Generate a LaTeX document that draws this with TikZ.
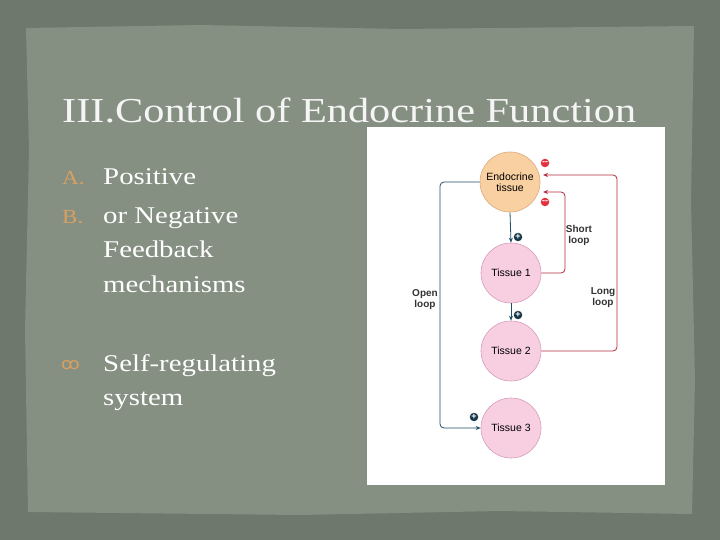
\documentclass[tikz,border=0pt]{standalone}
\usepackage{fontspec}
\setmainfont{Liberation Serif}
\newfontfamily\dsans{Liberation Sans}
\newfontfamily\djv{DejaVu Sans}
\usetikzlibrary{arrows.meta}
\definecolor{bgout}{HTML}{6E786C}
\definecolor{bgin}{HTML}{858F82}
\definecolor{bul}{HTML}{D9A060}
\definecolor{endof}{HTML}{F9D0A2}
\definecolor{endod}{HTML}{D9AC80}
\definecolor{tisf}{HTML}{F7CFE1}
\definecolor{tisd}{HTML}{D69DB8}
\definecolor{teal}{HTML}{1F4E66}
\definecolor{fb}{HTML}{B52B40}
\definecolor{minus}{HTML}{E2323F}
\begin{document}
\begin{tikzpicture}[x=1pt,y=-1pt,
  circ/.style={circle,minimum size=60pt,inner sep=0pt,draw=tisd,fill=tisf,line width=0.6pt,font=\dsans\fontsize{10.5}{11}\selectfont,align=center},
  lbl/.style={font=\dsans\bfseries\fontsize{10}{11}\selectfont,align=center,text=black!80},
  pl/.style={circle,fill=teal!70!black,text=white,inner sep=0pt,minimum size=8.5pt,font=\dsans\bfseries\fontsize{9}{9}\selectfont},
  mi/.style={circle,fill=minus,text=white,inner sep=0pt,minimum size=8.5pt,font=\dsans\bfseries\fontsize{9}{9}\selectfont},
  tl/.style={draw=teal,line width=0.8pt,-{Stealth[length=5pt,width=4pt]}},
  rl/.style={draw=fb,line width=0.8pt,rounded corners=4pt,-{Stealth[length=5pt,width=4pt]}},
  txt/.style={anchor=base west,inner sep=0pt,text=white,font=\fontsize{24}{24}\selectfont,xscale=1.2},
  bl/.style={anchor=base west,inner sep=0pt,text=bul,font=\fontsize{20}{20}\selectfont,xscale=1.15}]
\useasboundingbox (0,0) rectangle (720,540);
\fill[bgout] (0,0) rectangle (720,540);
\fill[bgin] (26,28) -- (200,25) -- (400,29) -- (694,26) -- (691,200) -- (695,380) -- (692,514) -- (500,511) -- (300,515) -- (28,512) -- (25,330) -- (29,150) -- cycle;
\node[anchor=base west,inner sep=0pt,text=white!92!gray,font=\fontsize{35}{35}\selectfont,xscale=1.21] (title) at (62,123) {III.Control of Endocrine Function};
\node[bl] (ba) at (62,185) {A.};
\node[txt] (t1) at (103,185) {Positive};
\node[bl] (bb) at (62,224) {B.};
\node[txt] (t2) at (103,224) {or Negative};
\node[txt] (t3) at (103,258) {Feedback};
\node[txt] (t4) at (103,292) {mechanisms};
\node[bl,font=\djv\fontsize{16}{16}\selectfont] (bc) at (61,369) {ꝏ};
\node[txt] (t5) at (103,371) {Self-regulating};
\node[txt] (t6) at (103,405) {system};
\fill[white] (367,127) rectangle (665,485);
\node[circ,draw=endod,fill=endof] (endo) at (510,182) {Endocrine\\tissue};
\node[circ] (ts1) at (511,273) {Tissue 1};
\node[circ] (ts2) at (511,351) {Tissue 2};
\node[circ] (ts3) at (511,428) {Tissue 3};
\coordinate (oa) at (440,182);
\coordinate (ob) at (440,428);
\coordinate (sa) at (543,192);
\coordinate (la) at (543,175);
\draw[tl,rounded corners=4pt] (endo.west) -- (oa) -- (ob) -- (ts3.west);
\draw[tl] (endo.south) -- (ts1.north);
\draw[tl] (ts1.south) -- (ts2.north);
\draw[rl] (ts1.east) -- (565,273) -- (565,192) -- (sa);
\draw[rl] (ts2.east) -- (617,351) -- (617,175) -- (la);
\node[pl] (p1) at (518,237) {+};
\node[pl] (p2) at (518,315) {+};
\node[pl] (p3) at (474,417) {+};
\node[mi] (m1) at (545,163) {--};
\node[mi] (m2) at (545,202) {--};
\node[lbl] (ol) at (425,300) {Open\\loop};
\node[lbl] (sl) at (579,235) {Short\\loop};
\node[lbl] (ll) at (603,298) {Long\\loop};
\end{tikzpicture}
\end{document}
